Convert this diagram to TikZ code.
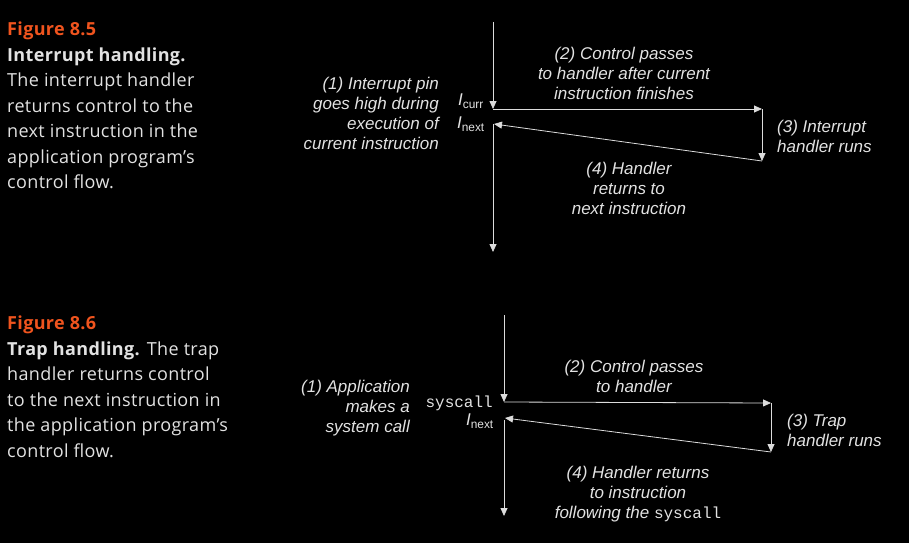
\documentclass[tikz,border=0pt]{standalone}
\usepackage{fontspec}
\setmainfont{Open Sans}[LetterSpace=2]
\newfontfamily\diagfont{Liberation Sans}
\newfontfamily\codefont{Liberation Mono}
\usetikzlibrary{arrows.meta}
\definecolor{figorange}{RGB}{240,84,30}
\definecolor{capgray}{RGB}{226,226,226}
\definecolor{linegray}{RGB}{220,220,220}

\begin{document}
\begin{tikzpicture}[x=1pt, y=-1pt,
    cap_text/.style={anchor=north west, align=left, inner sep=0pt, text=capgray,
      font=\fontsize{18}{25.5}\selectfont},
    note/.style={inner sep=0pt, text=capgray, font=\diagfont\itshape\fontsize{17}{20}\selectfont},
    flow/.style={color=linegray, line width=0.8pt, -{Triangle[width=7pt,length=8pt]}}]
  \useasboundingbox (0,0) rectangle (909,543);
  \fill[black] (0,0) rectangle (909,543);

  % Figure 8.5
  \node[cap_text] (cap1) at (7,22) {\textbf{\textcolor{figorange}{Figure 8.5}}\\
    \textbf{Interrupt handling.}\\
    The interrupt handler\\
    returns control to the\\
    next instruction in the\\
    application program’s\\
    control flow.};

  \coordinate (a_top) at (493,22);
  \coordinate (a_curr) at (493,109);
  \coordinate (a_hand) at (762,109);
  \coordinate (a_end) at (762,161);
  \coordinate (a_next) at (494,124);
  \coordinate (a_bot) at (493,252);

  \node[note, anchor=east, align=right] (a_one) at (439,113) {(1) Interrupt pin\\goes high during\\execution of\\current instruction};
  \node[note, anchor=east] (a_icurr) at (484,101) {I\textsubscript{\upshape curr}};
  \node[note, anchor=east] (a_inext) at (485,124) {I\textsubscript{\upshape next}};
  \node[note, align=center] (a_two) at (624,73) {(2) Control passes\\to handler after current\\instruction finishes};
  \node[note, anchor=west, align=left] (a_three) at (777,136) {(3) Interrupt\\handler runs};
  \node[note, align=center] (a_four) at (629,188) {(4) Handler\\returns to\\next instruction};

  \path[flow] (a_top) edge (a_curr)
    (a_curr) edge (a_hand)
    (a_hand) edge (a_end)
    (a_end) edge (a_next);
  \draw[flow] (a_next) ++(-1,0) -- (a_bot);

  % Figure 8.6
  \node[cap_text] (cap2) at (7,316) {\textbf{\textcolor{figorange}{Figure 8.6}}\\
    \textbf{Trap handling.} The trap\\
    handler returns control\\
    to the next instruction in\\
    the application program’s\\
    control flow.};

  \coordinate (b_top) at (504,315);
  \coordinate (b_call) at (504,402);
  \coordinate (b_hand) at (771,403);
  \coordinate (b_end) at (771,452);
  \coordinate (b_next) at (505,418);
  \coordinate (b_bot) at (504,516);

  \node[note, anchor=east, align=right] (b_one) at (410,408) {(1) Application\\makes a\\system call};
  \node[note, anchor=east, font=\codefont\fontsize{16}{20}\selectfont] (b_sys) at (493,403) {syscall};
  \node[note, anchor=east] (b_inext) at (494,421) {I\textsubscript{\upshape next}};
  \node[note, align=center] (b_two) at (634,376) {(2) Control passes\\to handler};
  \node[note, anchor=west, align=left] (b_three) at (787,430) {(3) Trap\\handler runs};
  \node[note, align=center] (b_four) at (638,494) {(4) Handler returns\\to instruction\\following the {\upshape\codefont\fontsize{16}{20}\selectfont syscall}};

  \path[flow] (b_top) edge (b_call)
    (b_call) edge (b_hand)
    (b_hand) edge (b_end)
    (b_end) edge (b_next);
  \draw[flow] (b_next) ++(-1,2) -- (b_bot);
\end{tikzpicture}
\end{document}
